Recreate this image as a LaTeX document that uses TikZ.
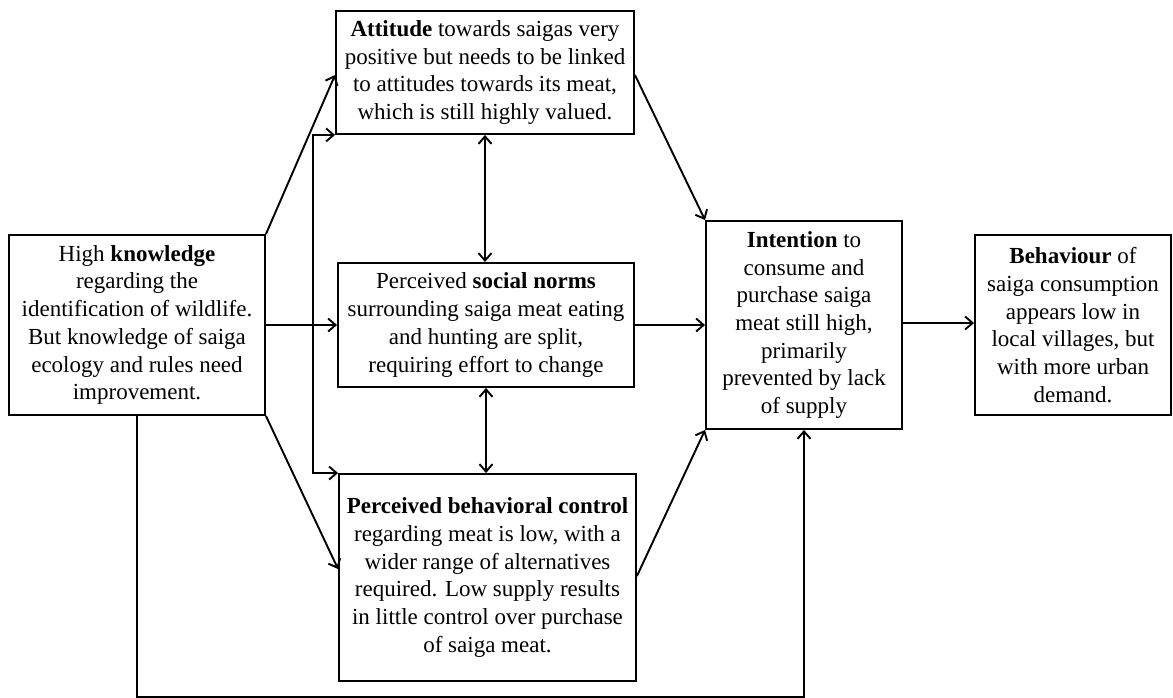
\documentclass[tikz,border=0pt]{standalone}
\usepackage{fontspec}
\setmainfont{Liberation Serif}
\usetikzlibrary{arrows.meta,calc}
\begin{document}
\begin{tikzpicture}[x=1pt,y=1pt,
  box/.style={draw, line width=1.9pt, inner sep=0pt, align=center,
    font=\fontsize{23}{27.7}\selectfont},
  arr/.style={line width=1.9pt, -{Straight Barb[length=7.5pt,width=13pt]}},
  darr/.style={line width=1.9pt, {Straight Barb[length=7.5pt,width=13pt]}-{Straight Barb[length=7.5pt,width=13pt]}}]
\useasboundingbox (0,0) rectangle (1173,-698);
\node[box, minimum width=256, minimum height=180] (K) at (137,-325)
  {High \textbf{knowledge}\\regarding the\\identification of wildlife.\\But knowledge of saiga\\ecology and rules need\\improvement.};
\node[box, minimum width=298, minimum height=123] (att) at (485,-72.5)
  {\textbf{Attitude} towards saigas very\\positive but needs to be linked\\to attitudes towards its meat,\\which is still highly valued.};
\node[box, minimum width=296, minimum height=124] (SN) at (486,-325)
  {Perceived \textbf{social norms}\\surrounding saiga meat eating\\and hunting are split,\\requiring effort to change};
\node[box, minimum width=297, minimum height=207] (PBC) at (487.5,-577.5)
  {\textbf{Perceived behavioral control}\\regarding meat is low, with a\\wider range of alternatives\\required. Low supply results\\in little control over purchase\\of saiga meat.};
\node[box, minimum width=196, minimum height=208] (int) at (804,-325)
  {\textbf{Intention} to\\consume and\\purchase saiga\\meat still high,\\primarily\\prevented by lack\\of supply};
\node[box, minimum width=196, minimum height=180] (beh) at (1073,-325)
  {\textbf{Behaviour} of\\saiga consumption\\appears low in\\local villages, but\\with more urban\\demand.};
% knowledge to the three constructs
\draw[arr] (K.north east) -- ($(att.west)+(0,-2.5)$);
\draw[arr] (K.east) -- (SN.west);
\draw[arr] (K.south east) -- ($(PBC.west)+(0,8.5)$);
\coordinate (br) at (313,-325);
\draw[arr] (br) |- (att.south west);
\draw[arr] (br) |- (PBC.north west);
% correlations
\draw[darr] (att.south) -- (att.south |- SN.north);
\draw[darr] (SN.south) -- (SN.south |- PBC.north);
% to intention
\draw[arr] ($(att.east)+(0,-2.5)$) -- (int.north west);
\draw[arr] (SN.east) -- (int.west);
\draw[arr] ($(PBC.east)+(0,1.5)$) -- (int.south west);
\draw[arr] ($(int.east)+(0,2)$) -- ($(beh.west)+(0,2)$);
% knowledge directly to intention
\coordinate (kc) at ($(K.south)+(0,-281)$);
\draw[arr] (K.south) -- (kc) -| (int.south);
\end{tikzpicture}
\end{document}
